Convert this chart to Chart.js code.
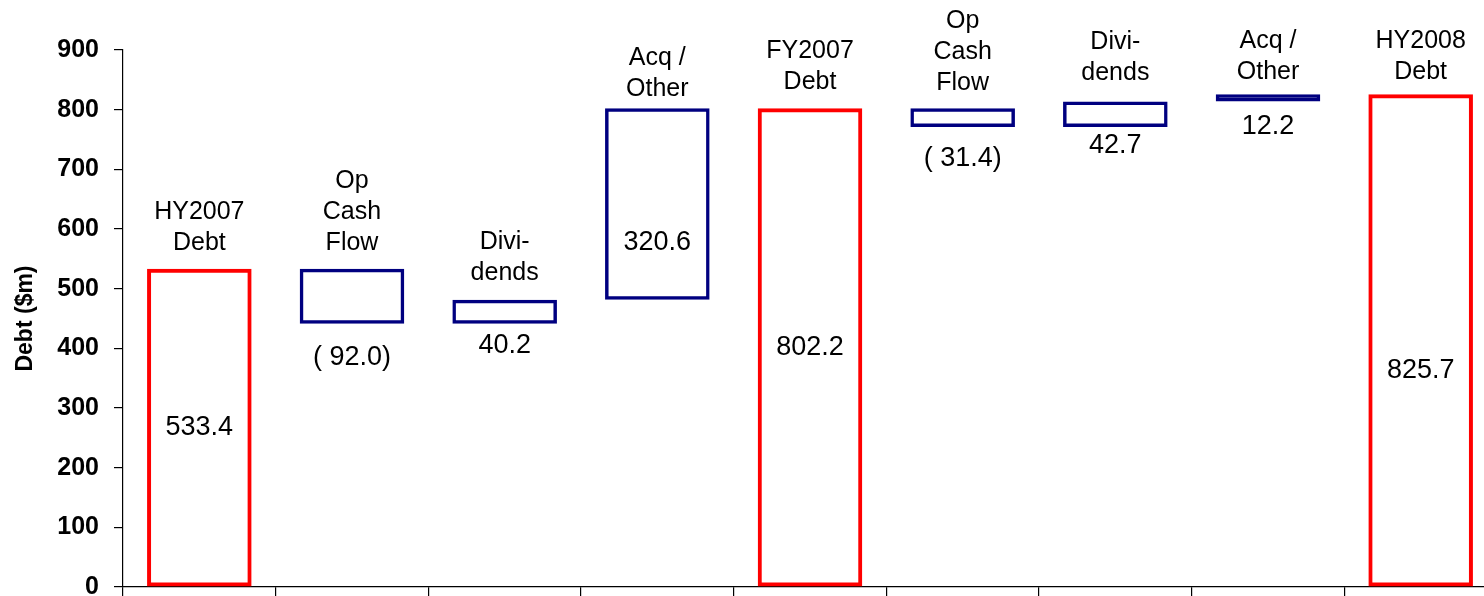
<!DOCTYPE html>
<html>
<head>
<meta charset="utf-8">
<script src="https://cdn.jsdelivr.net/npm/chart.js@4/dist/chart.umd.min.js"></script>
<style>
  html, body { margin: 0; padding: 0; background: #fff; overflow: hidden; }
  #wrap { width: 1484px; height: 596px; overflow: hidden; }
  canvas { display: block; }
</style>
</head>
<body>
<div id="wrap"><canvas id="chart" width="1510" height="620"></canvas></div>
<script>
// Debt bridge: HY2007 -> FY2007 -> HY2008 ($m)
const categories = [
  ['HY2007', 'Debt'],
  ['Op', 'Cash', 'Flow'],
  ['Divi-', 'dends'],
  ['Acq /', 'Other'],
  ['FY2007', 'Debt'],
  ['Op', 'Cash', 'Flow'],
  ['Divi-', 'dends'],
  ['Acq /', 'Other'],
  ['HY2008', 'Debt']
];
// 'total' bars start at zero, 'change' bars float from the running balance
const kinds = ['total', 'change', 'change', 'change', 'total', 'change', 'change', 'change', 'total'];
const amounts = [533.4, -92.0, 40.2, 320.6, 802.2, -31.4, 42.7, 12.2, 825.7];
const yTicks = [0, 100, 200, 300, 400, 500, 600, 700, 800, 900];

// Build floating [from, to] ranges
const ranges = [];
let running = 0;
amounts.forEach((v, i) => {
  if (kinds[i] === 'total') {
    running = v;
    ranges.push([0, v]);
  } else {
    const from = running;
    running = +(running + v).toFixed(1);
    ranges.push([Math.min(from, running), Math.max(from, running)]);
  }
});

function fmt(v) {
  return v < 0 ? '( ' + Math.abs(v).toFixed(1) + ')' : v.toFixed(1);
}

// Label placement: where the value sits and how far it is nudged (px)
const valuePlacement = ['center', 'below', 'below', 'inside', 'center', 'below', 'below', 'below', 'center'];
const valueNudge = [0, 34, 22, 134, 0, 31, 18, 25, 30];
const captionGap = [26, 26, 27, 19, 26, 25, 29, 22, 22];

const FONT = "'Liberation Sans', Arial, sans-serif";

const labelPlugin = {
  id: 'bridgeLabels',
  afterDatasetsDraw(chart) {
    const ctx = chart.ctx;
    const meta = chart.getDatasetMeta(0);
    const y = chart.scales.y;
    ctx.save();
    ctx.fillStyle = '#000';
    ctx.textAlign = 'center';
    ctx.textBaseline = 'middle';
    meta.data.forEach((bar, i) => {
      const [lo, hi] = ranges[i];
      const top = y.getPixelForValue(hi);
      const bottom = y.getPixelForValue(lo);
      // caption above bar
      ctx.font = '25px ' + FONT;
      const lines = categories[i];
      const lastY = top - captionGap[i];
      lines.forEach((ln, k) => {
        ctx.fillText(ln, bar.x, lastY - (lines.length - 1 - k) * 31);
      });
      // value label
      ctx.font = '27px ' + FONT;
      let vy;
      if (valuePlacement[i] === 'center') vy = (top + bottom) / 2 + valueNudge[i];
      else if (valuePlacement[i] === 'inside') vy = top + valueNudge[i];
      else vy = bottom + valueNudge[i];
      ctx.fillText(fmt(amounts[i]), bar.x, vy);
    });
    ctx.restore();
  }
};

const axisTitlePlugin = {
  id: 'axisTitle',
  afterDraw(chart) {
    const ctx = chart.ctx;
    const area = chart.chartArea;
    ctx.save();
    ctx.translate(26, (area.top + area.bottom) / 2);
    ctx.rotate(-Math.PI / 2);
    ctx.fillStyle = '#000';
    ctx.font = 'bold 23px ' + FONT;
    ctx.textAlign = 'center';
    ctx.textBaseline = 'middle';
    ctx.fillText('Debt ($m)', 0, 0);
    ctx.restore();
  }
};

new Chart(document.getElementById('chart'), {
  type: 'bar',
  data: {
    labels: categories.map(c => c.join(' ')),
    datasets: [{
      data: ranges,
      backgroundColor: 'rgba(255,255,255,0)',
      borderColor: kinds.map(k => k === 'total' ? '#FF0000' : '#000080'),
      borderWidth: kinds.map(k => k === 'total' ? 4 : 3.5),
      borderSkipped: false,
      categoryPercentage: 1,
      barPercentage: 0.685
    }]
  },
  options: {
    responsive: false,
    animation: false,
    devicePixelRatio: 1,
    layout: { padding: { top: 50, right: 13, left: 0, bottom: 0 } },
    plugins: { legend: { display: false }, tooltip: { enabled: false } },
    scales: {
      x: {
        grid: { offset: true, drawOnChartArea: false, drawTicks: true, tickLength: 9, color: '#000', lineWidth: 1.2 },
        border: { display: true, color: '#000', width: 1.2 },
        ticks: { display: false },
        afterFit(s) { s.height = 33; }
      },
      y: {
        min: 0,
        max: 900,
        afterBuildTicks(s) { s.ticks = yTicks.map(v => ({ value: v })); },
        grid: { drawOnChartArea: false, drawTicks: true, tickLength: 9, color: '#000', lineWidth: 1.2 },
        border: { display: true, color: '#000', width: 1.2 },
        ticks: { color: '#000', padding: 15, font: { family: FONT, size: 25, weight: 'bold' } },
        afterFit(s) { s.width = 123; }
      }
    }
  },
  plugins: [labelPlugin, axisTitlePlugin]
});
</script>
</body>
</html>
